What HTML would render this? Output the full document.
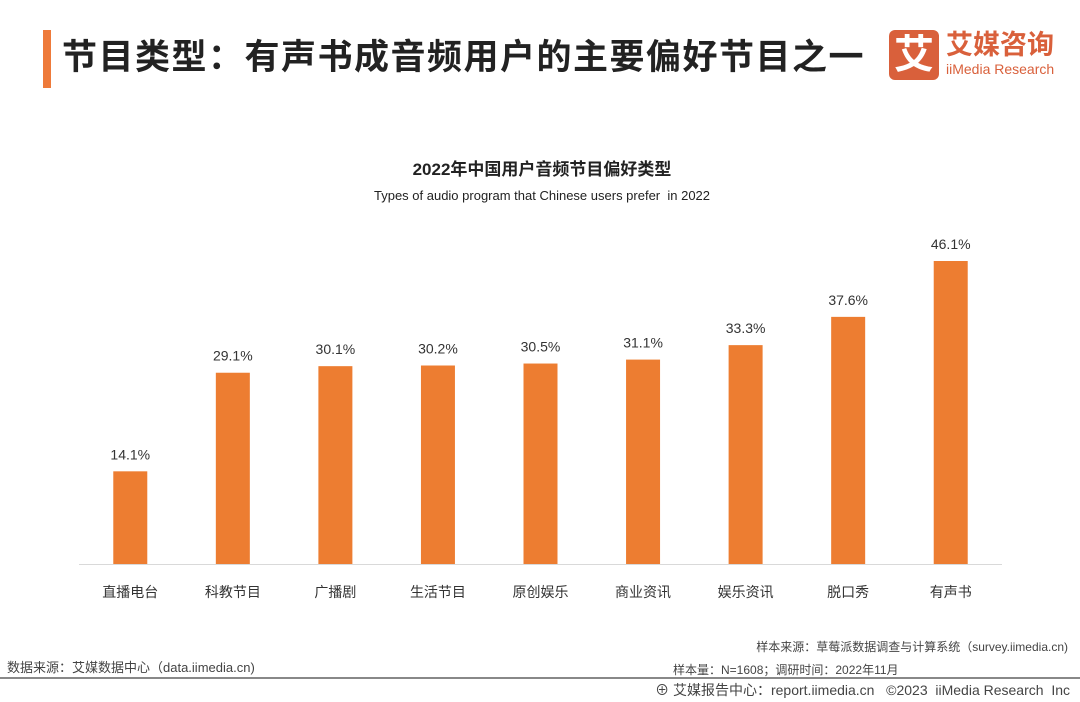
<!DOCTYPE html>
<html><head><meta charset="utf-8"><style>
body{margin:0;width:1080px;height:702px;background:#fff;position:relative;overflow:hidden;font-family:"Liberation Sans","Noto Sans CJK SC",sans-serif;}
.abs{position:absolute;}
</style></head><body>
<div class="abs" style="left:43px;top:30px;width:8px;height:58px;background:#ee7a3a"></div>
<div class="abs" style="left:62px;top:29px;font-size:35px;font-weight:bold;color:#222;letter-spacing:1.5px;white-space:nowrap">节目类型：有声书成音频用户的主要偏好节目之一</div>
<div class="abs" style="left:889px;top:30px;width:50px;height:50px;background:#d9603b;border-radius:6px;color:#fff;font-size:40px;font-weight:bold;text-align:center;line-height:50px">艾</div>
<div class="abs" style="left:946px;top:30px;color:#d9603b;white-space:nowrap"><div style="font-size:27px;font-weight:bold;line-height:30px">艾媒咨询</div><div style="font-size:14px;line-height:18px">iiMedia Research</div></div>
<div class="abs" style="left:0;width:1084px;top:155px;text-align:center;font-size:17px;font-weight:bold;color:#222">2022年中国用户音频节目偏好类型</div>
<div class="abs" style="left:0;width:1084px;top:188px;text-align:center;font-size:13px;color:#222">Types of audio program that Chinese users prefer&nbsp; in 2022</div>
<svg class="abs" style="left:0;top:0" width="1080" height="702" id="chart"></svg>
<div class="abs" style="left:7px;top:657px;font-size:13px;color:#444;white-space:nowrap">数据来源：艾媒数据中心（data.iimedia.cn)</div>
<div class="abs" style="right:12px;top:638px;font-size:12px;color:#444;white-space:nowrap">样本来源：草莓派数据调查与计算系统（survey.iimedia.cn)</div>
<div class="abs" style="left:673px;top:661px;font-size:12px;color:#444;white-space:nowrap">样本量：N=1608；调研时间：2022年11月</div>
<div class="abs" style="left:0;top:677px;width:1080px;height:2px;background:#888"></div>
<div class="abs" style="right:10px;top:680px;font-size:14px;color:#444;white-space:nowrap">⊕ 艾媒报告中心：report.iimedia.cn&nbsp;&nbsp; ©2023&nbsp; iiMedia Research&nbsp; Inc</div>
<script>
const categories=["直播电台","科教节目","广播剧","生活节目","原创娱乐","商业资讯","娱乐资讯","脱口秀","有声书"];
const values=[14.1,29.1,30.1,30.2,30.5,31.1,33.3,37.6,46.1];
const labels=["14.1%","29.1%","30.1%","30.2%","30.5%","31.1%","33.3%","37.6%","46.1%"];
const svg=document.getElementById('chart');
const NS="http://www.w3.org/2000/svg";
const x0=79,x1=1002,base=564,scale=303/46.1;
const step=(x1-x0)/categories.length,bw=34;
const xPos=i=>x0+step*(i+0.5);
const yPos=v=>base-v*scale;
const ax=document.createElementNS(NS,'line');
ax.setAttribute('x1',x0);ax.setAttribute('x2',x1);ax.setAttribute('y1',base+0.5);ax.setAttribute('y2',base+0.5);ax.setAttribute('stroke','#d9d9d9');


svg.appendChild(ax);
values.forEach((v,i)=>{
 const r=document.createElementNS(NS,'rect');
 r.setAttribute('x',xPos(i)-bw/2);r.setAttribute('y',yPos(v));r.setAttribute('width',bw);r.setAttribute('height',base-yPos(v));r.setAttribute('fill','#ed7d31');
 
 
 svg.appendChild(r);
 const t=document.createElementNS(NS,'text');
 t.setAttribute('x',xPos(i));t.setAttribute('y',yPos(v)-12);t.setAttribute('text-anchor','middle');t.setAttribute('font-size','14');t.setAttribute('fill','#333');
 t.textContent=labels[i];
 
 
 svg.appendChild(t);
 const c=document.createElementNS(NS,'text');
 c.setAttribute('x',xPos(i));c.setAttribute('y',base+33);c.setAttribute('text-anchor','middle');c.setAttribute('font-size','14');c.setAttribute('fill','#333');
 c.textContent=categories[i];
 
 
 svg.appendChild(c);
});
</script>
</body></html>
